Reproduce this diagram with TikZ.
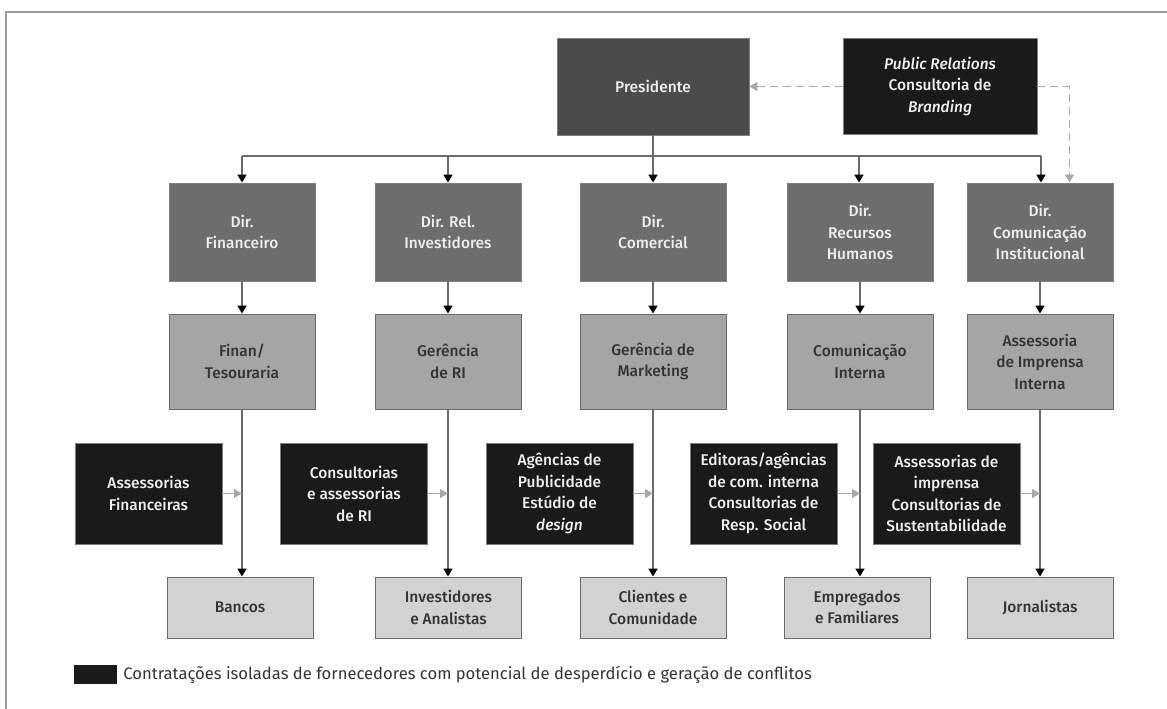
\documentclass[tikz,border=0pt]{standalone}
\usepackage{fontspec}
\setmainfont{Fira Sans}
\newfontfamily\boxfont{Fira Sans Medium}[ItalicFont={Fira Sans Medium Italic}]
\usetikzlibrary{arrows.meta,calc}

\definecolor{presfill}{HTML}{4B4B4B}
\definecolor{dirfill}{HTML}{6D6D6D}
\definecolor{gerfill}{HTML}{A5A5A5}
\definecolor{extfill}{HTML}{1A1A1A}
\definecolor{pubfill}{HTML}{D2D2D2}
\definecolor{edgec}{HTML}{7E7E7E}
\definecolor{linec}{HTML}{6A6A6A}
\definecolor{dashc}{HTML}{A8A8A8}
\definecolor{darktext}{HTML}{333333}
\definecolor{lighttext}{HTML}{EEEEEE}
\definecolor{framec}{HTML}{9C9C9C}

\begin{document}
\begin{tikzpicture}[x=1pt,y=-1pt,
  box/.style={draw=edgec, line width=0.9pt, align=center, inner sep=0pt,
    font=\boxfont\fontsize{15.5}{21.5}\selectfont},
  presbox/.style={box, fill=presfill, text=lighttext, minimum width=192pt, minimum height=97pt},
  prbox/.style={box, fill=extfill, text=lighttext, minimum width=194pt, minimum height=96pt},
  dirbox/.style={box, fill=dirfill, text=lighttext, minimum width=146pt, minimum height=98pt},
  gerbox/.style={box, fill=gerfill, text=darktext, draw=linec, minimum width=146pt, minimum height=95pt},
  extbox/.style={box, fill=extfill, text=lighttext, minimum width=147pt, minimum height=101pt},
  pubbox/.style={box, fill=pubfill, text=darktext, draw=linec, minimum width=146pt, minimum height=61pt},
  busline/.style={draw=linec, line width=1.6pt},
  down/.style={draw=linec, line width=1.6pt, -{Triangle[length=8pt,width=9pt,color=black]}},
  sidearrow/.style={draw=dashc, line width=1.6pt, -{Triangle[length=8pt,width=9pt]}},
  dashlink/.style={draw=dashc, line width=1.6pt, dash pattern=on 8pt off 5pt,
    -{Triangle[length=8pt,width=9pt]}},
]
\useasboundingbox (0,0) rectangle (1167,709);

% outer frame (top and left edges)
\draw[framec, line width=2.5pt] (6,712) -- (6,12) -- (1170,12);

% top level
\node[presbox] (pres) at (653,86.5) {Presidente};
\node[prbox] (pr) at (940,86.5) {\textit{Public Relations}\\Consultoria de\\\textit{Branding}};

% directors
\node[dirbox] (dfin) at (242,232) {Dir.\\Financeiro};
\node[dirbox] (dri)  at (448,232) {Dir. Rel.\\Investidores};
\node[dirbox] (dcom) at (653,232) {Dir.\\Comercial};
\node[dirbox] (drh)  at (860,232) {Dir.\\Recursos\\Humanos};
\node[dirbox] (dci)  at (1040,232) {Dir.\\Comunicação\\Institucional};

% managers
\node[gerbox] (gfin) at (242,361.5) {Finan/\\Tesouraria};
\node[gerbox] (gri)  at (448,361.5) {Gerência\\de RI};
\node[gerbox] (gcom) at (653,361.5) {Gerência de\\Marketing};
\node[gerbox] (grh)  at (860,361.5) {Comunicação\\Interna};
\node[gerbox] (gci)  at (1040,361.5) {Assessoria\\de Imprensa\\Interna};

% outside suppliers
\node[extbox] (xfin) at (148.5,493.5) {Assessorias\\Financeiras};
\node[extbox] (xri)  at (354,493.5) {Consultorias\\e assessorias\\de RI};
\node[extbox] (xcom) at (559.5,493.5) {Agências de\\Publicidade\\Estúdio de\\\textit{design}};
\node[extbox] (xrh)  at (763.5,493.5) {Editoras/agências\\de com. interna\\Consultorias de\\Resp. Social};
\node[extbox] (xci)  at (946.5,493.5) {Assessorias de\\imprensa\\Consultorias de\\Sustentabilidade};

% audiences
\node[pubbox] (pfin) at (240,607.5) {Bancos};
\node[pubbox] (pri)  at (448.5,607.5) {Investidores\\e Analistas};
\node[pubbox] (pcom) at (653,607.5) {Clientes e\\Comunidade};
\node[pubbox] (prh)  at (857,607.5) {Empregados\\e Familiares};
\node[pubbox] (pci)  at (1040,607.5) {Jornalistas};

% president to directors
\coordinate (bus) at (0,156);
\draw[busline] (dfin.north |- bus) -- ([xshift=1pt]dci.north |- bus);
\draw[down] (pres.south) -- (dcom.north);
\draw[down] (dfin.north |- bus) -- (dfin.north);
\draw[down] (dri.north |- bus) -- (dri.north);
\draw[down] ([xshift=-1pt]drh.north |- bus) -- ([xshift=-1pt]drh.north);
\draw[down] ([xshift=1pt]dci.north |- bus) -- ([xshift=1pt]dci.north);

% consultancy links
\coordinate (prturn) at ($(pr.east)+(32,0)$);
\draw[dashlink] (pr.west) -- (pres.east);
\draw[dashlink] (pr.east) -- (prturn) -- (prturn |- dci.north);

% directors to managers
\foreach \d/\g in {dfin/gfin, dri/gri, dcom/gcom, drh/grh, dci/gci}
  \draw[down] (\d.south) -- (\g.north);

% managers to audiences
\foreach \g/\p in {gfin/pfin, gri/pri, gcom/pcom, grh/prh, gci/pci}
  \draw[down] (\g.south) -- (\g.south |- \p.north);

% suppliers feeding each channel
\foreach \x/\g in {xfin/gfin, xri/gri, xcom/gcom, xrh/grh, xci/gci}
  \draw[sidearrow] (\x.east) -- (\x.east -| \g.south);

% legend
\node[fill=extfill, minimum width=43pt, minimum height=19pt, inner sep=0pt] (legkey) at (95.5,674.5) {};
\node[anchor=west, inner sep=0pt, text=darktext, font=\fontsize{16.6}{19}\selectfont] (legtext)
  at ($(legkey.east)+(6,0)$) {Contratações isoladas de fornecedores com potencial de desperdício e geração de conflitos};
\end{tikzpicture}
\end{document}
